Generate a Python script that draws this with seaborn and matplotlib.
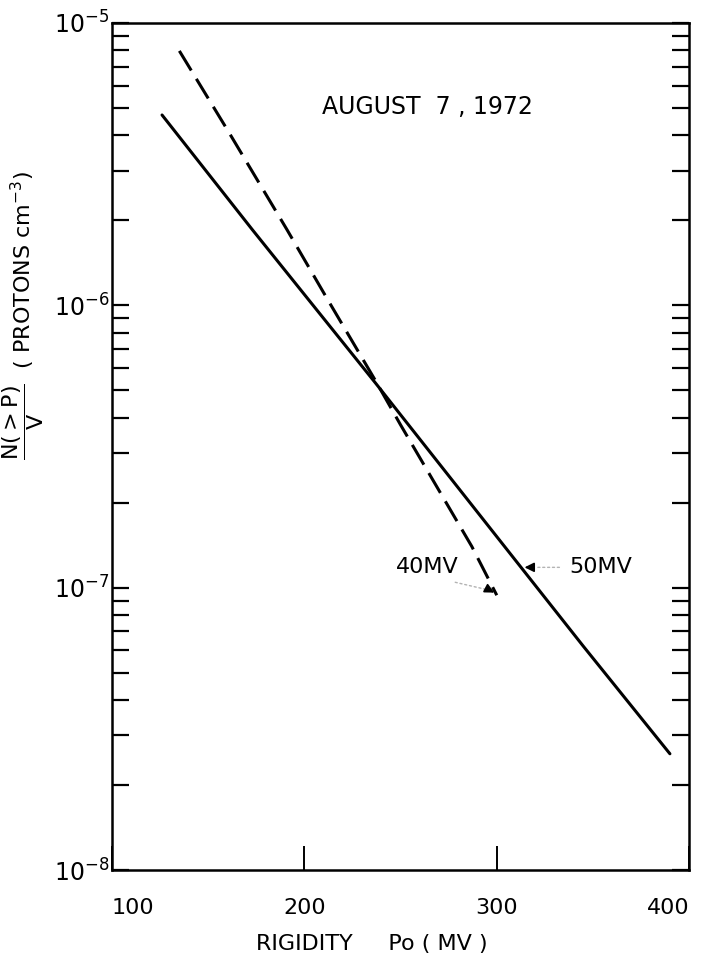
import numpy as np
import pandas as pd
import seaborn as sns
import matplotlib
matplotlib.use("Agg")
import matplotlib.pyplot as plt
from matplotlib.ticker import LogLocator, FixedLocator, NullFormatter

# Values (rigidity in MV, density in protons cm^-3)
rig_50mv = [126, 173, 237, 345, 390]
dens_50mv = [4.72e-6, 1.85e-6, 5.3e-7, 6.2e-8, 2.58e-8]

rig_40mv = [135, 161, 191, 212, 237, 250, 287, 300]
dens_40mv = [7.96e-6, 4.07e-6, 1.85e-6, 1.05e-6, 5.4e-7, 3.77e-7, 1.40e-7, 9.4e-8]

x_ticks = [100, 200, 300, 400]
y_ticks = [1e-8, 1e-7, 1e-6, 1e-5]
y_labels = [r"$\mathregular{10^{-8}}$", r"$\mathregular{10^{-7}}$",
            r"$\mathregular{10^{-6}}$", r"$\mathregular{10^{-5}}$"]

df50 = pd.DataFrame({"rig": rig_50mv, "dens": dens_50mv})
df40 = pd.DataFrame({"rig": rig_40mv, "dens": dens_40mv})

sns.set_theme(style="ticks")
plt.rcParams["font.family"] = ["DejaVu Sans"]
plt.rcParams["text.color"] = "black"
plt.rcParams["axes.labelcolor"] = "black"
plt.rcParams["xtick.color"] = "black"
plt.rcParams["ytick.color"] = "black"

fig = plt.figure(figsize=(7.09, 9.55), dpi=100)
ax = fig.add_axes([0.158, 0.089, 0.814, 0.887])

sns.lineplot(data=df50, x="rig", y="dens", color="black", lw=2.2, ax=ax)
sns.lineplot(data=df40, x="rig", y="dens", color="black", lw=2.2,
             linestyle=(0, (7.5, 3.2)), ax=ax)

ax.set_yscale("log")
ax.set_xlim(100, 400)
ax.set_ylim(1e-8, 1e-5)

for s in ax.spines.values():
    s.set_linewidth(1.8)
    s.set_color("black")

# x ticks
ax.xaxis.set_major_locator(FixedLocator(x_ticks))
ax.set_xticklabels([str(v) for v in x_ticks], fontsize=16)
ax.tick_params(axis="x", which="major", direction="in", length=17, width=1.4,
               bottom=True, top=False, pad=20)
lbls = ax.get_xticklabels()
lbls[0].set_ha("left")
lbls[-1].set_ha("right")

# y ticks
ax.yaxis.set_major_locator(FixedLocator(y_ticks))
ax.set_yticklabels(y_labels, fontsize=17)
ax.yaxis.set_minor_locator(LogLocator(base=10, subs=np.arange(2, 10)))
ax.yaxis.set_minor_formatter(NullFormatter())
ax.tick_params(axis="y", which="both", direction="in", length=12, width=1.6,
               left=True, right=True, pad=2)

ax.set_xlabel("RIGIDITY     Po ( MV )", fontsize=16)
ax.xaxis.set_label_coords(0.45, -0.075)
ax.set_ylabel(r"$\dfrac{\mathregular{N(>P)}}{\mathregular{V}}$  ( PROTONS cm$\mathregular{^{-3}}$)",
              fontsize=16)
ax.yaxis.set_label_coords(-0.114, 0.655)

ax.text(264, 5.03e-6, "AUGUST  7 , 1972", fontsize=17, ha="center", va="center")

# labels with leader arrows
ax.text(264, 1.18e-7, "40MV", fontsize=16, ha="center", va="center")
ax.annotate("", xy=(296, 9.8e-8), xytext=(277, 1.05e-7),
            arrowprops=dict(arrowstyle="-", color="0.7", lw=1, linestyle=(0, (1.5, 2))))
ax.annotate("", xy=(300, 9.5e-8), xytext=(295, 9.9e-8),
            arrowprops=dict(arrowstyle="-|>", color="black", lw=1.2, mutation_scale=14))

ax.text(354, 1.18e-7, "50MV", fontsize=16, ha="center", va="center")
ax.annotate("", xy=(319, 1.18e-7), xytext=(334, 1.18e-7),
            arrowprops=dict(arrowstyle="-", color="0.7", lw=1, linestyle=(0, (1.5, 2))))
ax.annotate("", xy=(313, 1.18e-7), xytext=(319, 1.18e-7),
            arrowprops=dict(arrowstyle="-|>", color="black", lw=1.2, mutation_scale=14))

fig.savefig("out.png", dpi=100)
